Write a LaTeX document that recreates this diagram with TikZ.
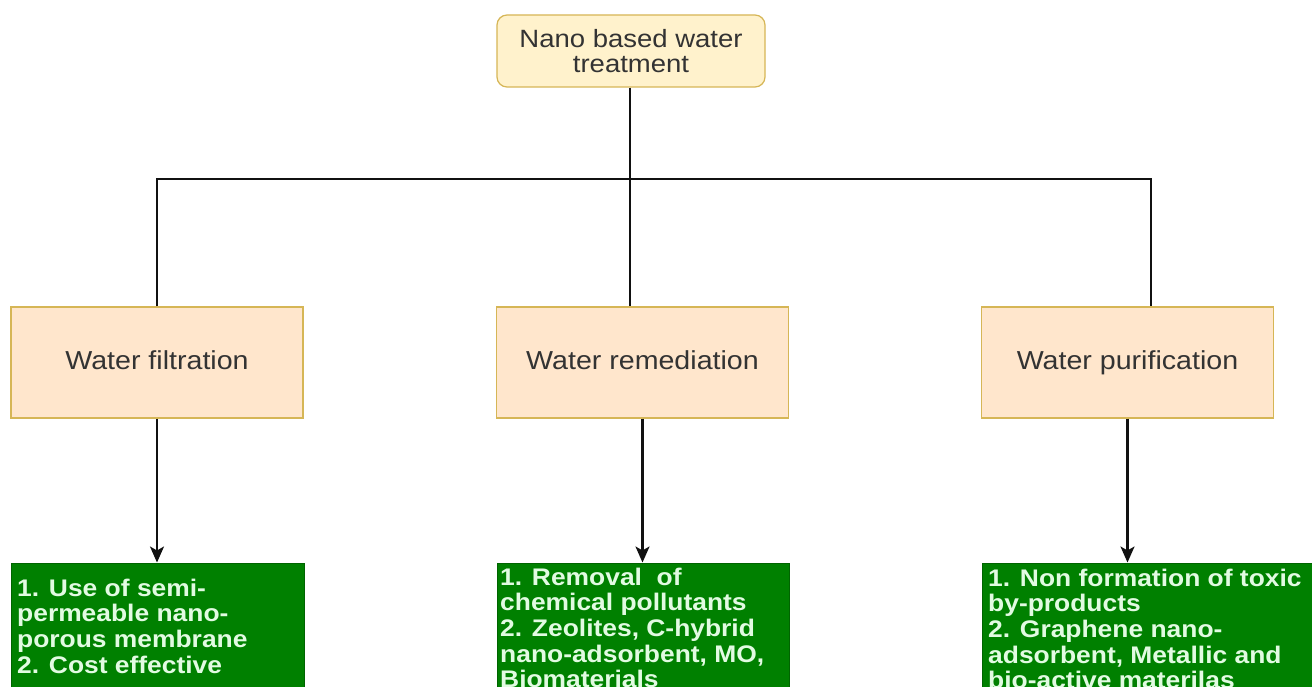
\documentclass[tikz,border=0pt]{standalone}
\usepackage{fontspec}
\setmainfont{Liberation Sans}[FakeStretch=1.1]
\usetikzlibrary{arrows.meta,calc}
\definecolor{topfill}{HTML}{FFF2CC}
\definecolor{goldline}{HTML}{D6B656}
\definecolor{peach}{HTML}{FFE6CC}
\definecolor{boxgreen}{HTML}{008000}
\definecolor{greenline}{HTML}{006400}
\definecolor{darktext}{HTML}{333333}
\definecolor{greentext}{HTML}{E2FBE2}
\definecolor{wire}{HTML}{111111}
\tikzset{
  rootbox/.style={draw=goldline, fill=topfill, line width=1.2pt, rounded corners=10pt,
    minimum width=268pt, minimum height=72pt, inner sep=0pt, align=center,
    text=darktext, font=\fontsize{25}{25}\selectfont},
  catbox/.style={draw=goldline, fill=peach, line width=1.2pt,
    minimum width=292pt, minimum height=111pt, inner sep=0pt, align=center,
    text height=19pt, text depth=5.5pt,
    text=darktext, font=\fontsize{26}{26}\selectfont},
  infobox/.style={draw=greenline, fill=boxgreen, line width=1pt, inner sep=0pt},
  infotext/.style={anchor=north west, inner sep=0pt, align=left, text=greentext,
    font=\bfseries\fontsize{24}{25.7}\selectfont},
  wireline/.style={draw=wire, line width=2.2pt},
  arr/.style={draw=wire, line width=2.2pt, -{Stealth[length=16pt,width=14pt,inset=4pt]}}
}
\begin{document}
\begin{tikzpicture}[x=1pt,y=-1pt]
\useasboundingbox (0,0) rectangle (1312,687);
\clip (0,0) rectangle (1312,687);
\fill[white] (0,0) rectangle (1312,687);

% root
\node[rootbox] (root) at (631,51) {Nano based water\\treatment};

% category boxes
\node[catbox] (filt) at (157,362.5) {Water filtration};
\node[catbox] (remed) at (642.5,362.5) {Water remediation};
\node[catbox] (purif) at (1127.5,362.5) {Water purification};

% green info boxes (run below the page edge, as in the reference)
\node[infobox, minimum width=293pt, minimum height=160pt] (ginfo) at (157.5,643) {};
\node[infobox, minimum width=292pt, minimum height=160pt] (rinfo) at (643,643) {};
\node[infobox, minimum width=340pt, minimum height=160pt] (pinfo) at (1152,643) {};

\node[infotext] (gtext) at (17,578.5) {1. Use of semi-\\permeable nano-\\porous membrane\\2. Cost effective};
\node[infotext] (rtext) at (500,567.5) {1. Removal\ \ of\\chemical pollutants\\2. Zeolites, C-hybrid\\nano-adsorbent, MO,\\Biomaterials};
\node[infotext] (ptext) at (988,568.5) {1. Non formation of toxic\\by-products\\2. Graphene nano-\\adsorbent, Metallic and\\bio-active materilas};

% tree connectors
\coordinate (jl) at (157,179);
\coordinate (jm) at (630,179);
\coordinate (jr) at (1151,179);
\draw[wireline] (root.south -| jm) -- (jm |- remed.north);
\draw[wireline] (filt.north) -- (jl) -- (jr) -- (jr |- purif.north);

% arrows
\draw[arr] (filt.south) -- (filt.south |- ginfo.north);
\draw[arr] (remed.south) -- (remed.south |- rinfo.north);
\draw[arr] (purif.south) -- (purif.south |- pinfo.north);
\end{tikzpicture}
\end{document}
